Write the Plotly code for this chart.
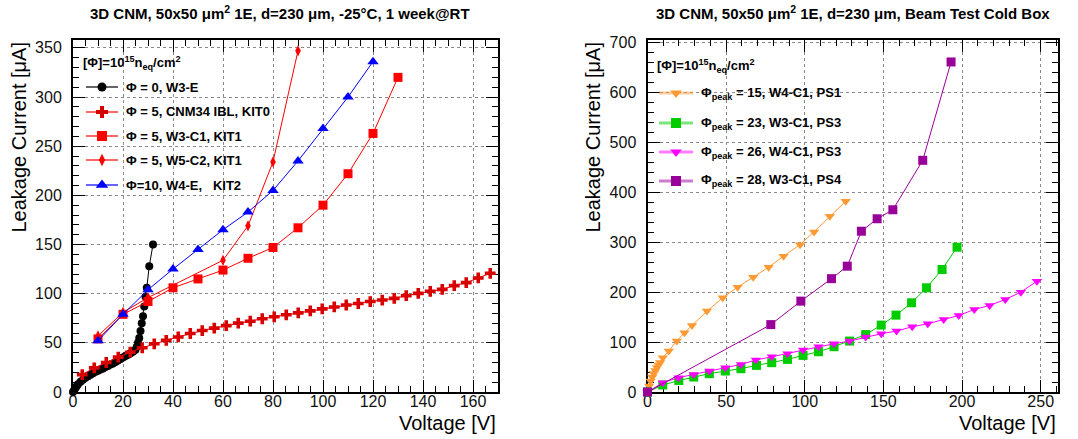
import plotly.graph_objects as go

W, H = 1078, 439

# ---------------- data: left panel (-25C, 1 week@RT) ----------------
v_w3e = [0, 0.5, 1, 1.5, 2, 3, 4, 5, 6, 7, 8, 9, 10, 11, 12, 13, 14, 15, 16, 17, 18, 19,
         20, 21, 22, 23, 24, 25, 25.5, 26, 26.5, 27, 27.5, 28, 28.5, 29, 29.5, 30.5, 32]
i_w3e = [0, 2, 4, 6, 8, 10.5, 12.5, 14.5, 16, 17.5, 19, 20.5, 21.5, 23, 24, 25.5, 26.5, 28, 29, 30.5, 32, 33.5,
         35, 36.5, 38, 39.5, 41, 43, 46, 50, 55, 62, 70, 77, 87, 97, 106, 128, 150]

v_cnm34 = [3.7, 8.5, 13.3, 18.1, 22.9, 27.7, 32.5, 37.3, 42.1, 46.9, 51.7, 56.5, 61.3, 66.1, 70.9, 75.7, 80.5, 85.3,
           90.1, 94.9, 99.7, 104.5, 109.3, 114.1, 118.9, 123.7, 128.5, 133.3, 138.1, 142.9, 147.7, 152.5, 157.3,
           162.1, 166.9]
i_cnm34 = [17.7, 24.5, 30, 35.5, 40.5, 45, 49, 52.5, 56, 59.5, 62.5, 65, 67.5, 70, 72, 74.5, 76.5, 78.5,
           80.5, 82.5, 84.5, 86.5, 88.5, 90, 92, 93.5, 95.2, 98, 100.3, 102.4, 104.4, 108.2, 111.2, 116, 120.7]

v_w3c1 = [10, 20, 30, 40, 50, 60, 70, 80, 90, 100, 110, 120, 130]
i_w3c1 = [54, 79, 92, 106, 115, 124, 136, 147, 167, 190, 222, 263, 320]

v_w5c2 = [10, 20, 30, 60, 70, 80, 90]
i_w5c2 = [57, 81, 96, 134, 169, 234, 347]

v_w4e = [10, 20, 30, 40, 50, 60, 70, 80, 90, 100, 110, 120]
i_w4e = [52, 79, 104, 125, 145, 165, 183, 205, 235, 268, 300, 336]

# ---------------- data: right panel (beam test cold box) ----------------
v_ps1 = [0, 1, 2, 3, 4, 5, 6, 7, 8, 9.7, 13.5, 18.6, 23.5, 28.3, 37.8, 47.8, 57.3, 67.2, 77, 86.5, 97,
         105.9, 115.9, 126]
i_ps1 = [0, 12, 22, 30, 37, 43, 49, 54, 59, 68.7, 82, 102, 118.7, 133, 162, 188.7, 210, 230, 250, 272, 295,
         320.7, 352, 382]

v_ps3a = [0, 9.7, 19.9, 29.4, 39.3, 49.5, 59.4, 69.3, 79, 89, 98.9, 108.7, 118.6, 128.5, 138.7, 148.6, 158,
          167.9, 177.4, 187.3, 196.8]
i_ps3a = [0, 14, 23, 30, 36.7, 42, 46.7, 53.3, 58.7, 65.3, 73.3, 80.7, 90.7, 102, 115, 134, 154, 178.7, 208.7,
          245.3, 290]

v_ps3b = [0, 9.7, 19.7, 29.4, 39.3, 49.5, 59.4, 68.9, 79, 89, 98.9, 108.7, 118.6, 128.5, 138.7, 148.6, 158.3,
          168.3, 178.2, 188.3, 197.9, 207.8, 217.5, 227.5, 237.4, 247.6]
i_ps3b = [0, 18.7, 28.7, 35.3, 42, 48.7, 55.3, 64, 70.7, 76.7, 84, 90.7, 96.7, 102, 110, 116.7, 122, 130.7,
          136.7, 145.3, 153.3, 165.3, 173.3, 185.3, 200, 222]

v_ps4 = [0, 78.4, 97.5, 117, 127, 136, 146, 156, 175, 193]
i_ps4 = [0, 135, 182, 227, 252, 322, 347, 365, 464, 661]

left_xticks = [0, 20, 40, 60, 80, 100, 120, 140, 160]
left_yticks = [0, 50, 100, 150, 200, 250, 300, 350]
right_xticks = [0, 50, 100, 150, 200, 250]
right_yticks = [0, 100, 200, 300, 400, 500, 600, 700]

left_series = [
    ("\u03a6 = 0, W3-E", v_w3e, i_w3e, "#000000", "#000000", "circle", 8),
    ("\u03a6 = 5, CNM34 IBL, KIT0", v_cnm34, i_cnm34, "#d80000", "#ff0000", "cross", 9),
    ("\u03a6 = 5, W3-C1, KIT1", v_w3c1, i_w3c1, "#ff0000", "#ff0000", "square", 9),
    ("\u03a6 = 5, W5-C2, KIT1", v_w5c2, i_w5c2, "#ff0000", "#ff0000", "diamond-tall", 8),
    ("\u03a6=10, W4-E,   KIT2", v_w4e, i_w4e, "#0000ff", "#0000ff", "triangle-up", 10),
]
right_series = [
    ("\u03a6<sub>peak</sub> = 15, W4-C1, PS1", v_ps1, i_ps1, "#ff9933", "#ff9933", "triangle-down", 9),
    ("\u03a6<sub>peak</sub> = 23, W3-C1, PS3", v_ps3a, i_ps3a, "#00cc00", "#00cc00", "square", 9),
    ("\u03a6<sub>peak</sub> = 26, W4-C1, PS3", v_ps3b, i_ps3b, "#ff00ff", "#ff00ff", "triangle-down", 9),
    ("\u03a6<sub>peak</sub> = 28, W3-C1, PS4", v_ps4, i_ps4, "#990099", "#990099", "square", 9),
]

# ---------------- layout geometry (pixels) ----------------
FONT = "Liberation Sans, Arial, Helvetica, sans-serif"
TOP, BOT = 40, 392
LX0, LX1 = 73, 498
RX0, RX1 = 647.5, 1058


def fx(p):
    return p / W


def fy(p):
    return 1 - p / H


fig = go.Figure()

for name, xs, ys, mc, lc, sym, sz in left_series:
    fig.add_trace(go.Scatter(x=xs, y=ys, mode="lines+markers", xaxis="x", yaxis="y",
                             line=dict(color=lc, width=1), cliponaxis=False,
                             marker=dict(symbol=sym, size=sz, color=mc), showlegend=False))
for name, xs, ys, mc, lc, sym, sz in right_series:
    fig.add_trace(go.Scatter(x=xs, y=ys, mode="lines+markers", xaxis="x2", yaxis="y2",
                             line=dict(color=lc, width=1), cliponaxis=False,
                             marker=dict(symbol=sym, size=sz, color=mc), showlegend=False))

annotations = []


def legend_block(series, x_line0, x_line1, x_text, y_header, y_entries, x_header, line_w, line_op):
    annotations.append(dict(x=fx(x_header), y=fy(y_header), xref="paper", yref="paper",
                            text="<b>[\u03a6]=10<sup>15</sup>n<sub>eq</sub>/cm<sup>2</sup></b>",
                            showarrow=False, xanchor="left", yanchor="middle",
                            font=dict(family=FONT, size=13, color="black")))
    for (name, xs, ys, mc, lc, sym, sz), yy in zip(series, y_entries):
        fig.add_trace(go.Scatter(x=[x_line0, x_line1], y=[yy, yy], mode="lines", xaxis="x3", yaxis="y3",
                                 line=dict(color=lc, width=line_w), opacity=line_op,
                                 cliponaxis=False, showlegend=False, hoverinfo="skip"))
        fig.add_trace(go.Scatter(x=[(x_line0 + x_line1) / 2], y=[yy], mode="markers", xaxis="x3", yaxis="y3",
                                 marker=dict(symbol=sym, size=sz + 1, color=mc),
                                 cliponaxis=False, showlegend=False, hoverinfo="skip"))
        annotations.append(dict(x=fx(x_text), y=fy(yy), xref="paper", yref="paper",
                                text="<b>" + name + "</b>", showarrow=False,
                                xanchor="left", yanchor="middle",
                                font=dict(family=FONT, size=13, color="black")))


legend_block(left_series, 86, 118, 124, 63, [87, 112, 136, 160, 185], 81, 1.5, 0.8)
legend_block(right_series, 659, 693, 699, 66, [93, 123, 152, 181], 655, 3, 0.5)

TITLE_L = "<b>3D CNM, 50x50 \u03bcm<sup>2</sup> 1E, d=230 \u03bcm, -25\u00b0C, 1 week@RT</b>"
TITLE_R = "<b>3D CNM, 50x50 \u03bcm<sup>2</sup> 1E, d=230 \u03bcm, Beam Test Cold Box</b>"
annotations += [
    dict(x=fx(280), y=fy(13), xref="paper", yref="paper", text=TITLE_L, showarrow=False,
         xanchor="center", yanchor="middle", font=dict(family=FONT, size=15, color="black")),
    dict(x=fx(853), y=fy(13), xref="paper", yref="paper", text=TITLE_R, showarrow=False,
         xanchor="center", yanchor="middle", font=dict(family=FONT, size=15, color="black")),
    dict(x=fx(18), y=fy(TOP), xref="paper", yref="paper", text="Leakage Current [\u03bcA]",
         textangle=-90, showarrow=False, xanchor="center", yanchor="top",
         font=dict(family=FONT, size=20, color="black")),
    dict(x=fx(592), y=fy(TOP), xref="paper", yref="paper", text="Leakage Current [\u03bcA]",
         textangle=-90, showarrow=False, xanchor="center", yanchor="top",
         font=dict(family=FONT, size=20, color="black")),
    dict(x=fx(LX1), y=fy(423), xref="paper", yref="paper", text="Voltage [V]", showarrow=False,
         xanchor="right", yanchor="middle", font=dict(family=FONT, size=20, color="black")),
    dict(x=fx(RX1), y=fy(423), xref="paper", yref="paper", text="Voltage [V]", showarrow=False,
         xanchor="right", yanchor="middle", font=dict(family=FONT, size=20, color="black")),
]


def axis(domain, rng, ticks, minor_dtick, anchor, standoff):
    return dict(domain=domain, range=rng, anchor=anchor, tickmode="array", tickvals=ticks,
                ticks="inside", ticklen=12, tickwidth=1, tickcolor="black",
                minor=dict(dtick=minor_dtick, tick0=0, ticks="inside", ticklen=6, tickwidth=1,
                           tickcolor="black", showgrid=False),
                showgrid=True, griddash="dot", gridcolor="#8a8a8a", gridwidth=1,
                showline=True, linecolor="black", linewidth=2, mirror="allticks",
                zeroline=False, layer="below traces", fixedrange=True, automargin=False,
                ticklabelstandoff=standoff,
                tickfont=dict(family=FONT, size=16, color="#111"))


xdL = [fx(LX0), fx(LX1)]
xdR = [fx(RX0), fx(RX1)]
yd = [fy(BOT), fy(TOP)]

fig.update_layout(
    width=W, height=H, autosize=False,
    margin=dict(l=0, r=0, t=0, b=0, pad=0, autoexpand=False),
    paper_bgcolor="white", plot_bgcolor="rgba(0,0,0,0)",
    xaxis=axis(xdL, [0, 170], left_xticks, 5, "y", -6),
    yaxis=axis(yd, [0, 358], left_yticks, 10, "x", 6),
    xaxis2=axis(xdR, [0, 261], right_xticks, 10, "y2", -6),
    yaxis2=axis(yd, [0, 705], right_yticks, 20, "x2", 6),
    xaxis3=dict(domain=[0, 1], range=[0, W], visible=False, anchor="y3", fixedrange=True, automargin=False),
    yaxis3=dict(domain=[0, 1], range=[H, 0], visible=False, anchor="x3", fixedrange=True, automargin=False),
    annotations=annotations,
    font=dict(family=FONT),
)

fig.write_html("out.html", config={"displayModeBar": False, "staticPlot": True},
               post_script="document.body.style.margin='0';document.body.style.overflow='hidden';")
